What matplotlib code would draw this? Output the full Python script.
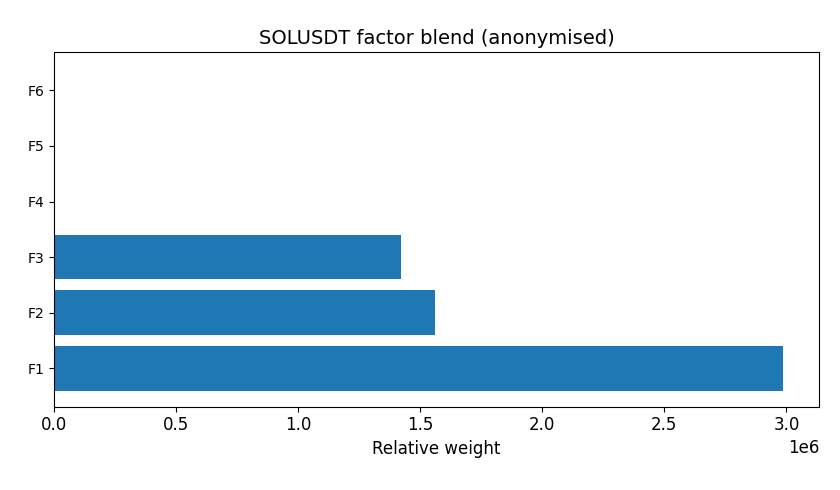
import matplotlib
matplotlib.use("Agg")
import matplotlib.pyplot as plt

factors = ["F1", "F2", "F3", "F4", "F5", "F6"]
weights = [2.984e6, 1.56e6, 1.42e6, 0.0, 0.0, 0.0]

fig, ax = plt.subplots(figsize=(8.4, 4.9), dpi=100)
ax.barh(factors, weights, color="#1f77b4")
ax.set_title("SOLUSDT factor blend (anonymised)", fontsize=14)
ax.set_xlabel("Relative weight", fontsize=12)
ax.tick_params(axis="x", labelsize=12)
ax.tick_params(axis="y", labelsize=10)
ax.xaxis.get_offset_text().set_fontsize(12)
fig.subplots_adjust(left=0.064, right=0.975, top=0.894, bottom=0.17)
fig.savefig("out.png")
